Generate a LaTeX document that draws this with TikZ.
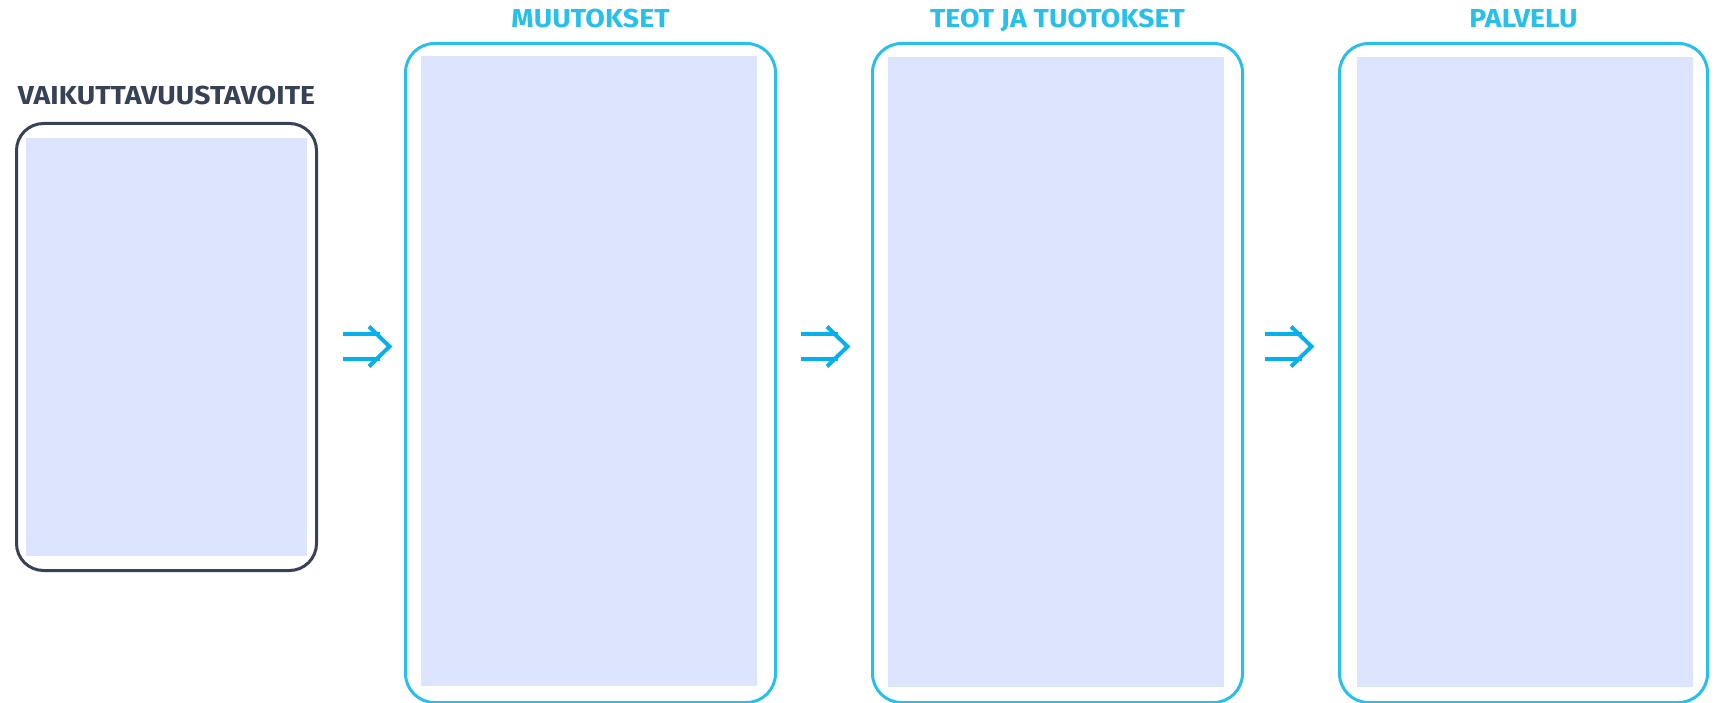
\documentclass[tikz,border=0pt]{standalone}
\usepackage{fontspec}
\usetikzlibrary{calc}
\setmainfont{Fira Sans}
\newfontfamily\titlefont{Fira Sans}[FakeStretch=1.09, LetterSpace=0.5]
\definecolor{darkc}{HTML}{374256}
\definecolor{cyanc}{HTML}{27C0EA}
\definecolor{arrowc}{HTML}{05B0EE}
\definecolor{fillc}{HTML}{DDE4FD}
\tikzset{
  darkbox/.style={draw=darkc, line width=3pt, rounded corners=27pt, inner sep=0pt, outer sep=0pt},
  cyanbox/.style={draw=cyanc, line width=3pt, rounded corners=29pt, inner sep=0pt, outer sep=0pt},
  panel/.style={fill=fillc, draw=none, inner sep=0pt, outer sep=0pt},
  darktitle/.style={text=darkc, font=\titlefont\fontsize{26}{30}\selectfont\bfseries, inner sep=0pt, anchor=base},
  cyantitle/.style={text=cyanc, font=\titlefont\fontsize{26}{30}\selectfont\bfseries, inner sep=0pt, anchor=base},
  flowarrow/.style={draw=arrowc, line width=4pt},
}
\begin{document}
\begin{tikzpicture}[x=1pt, y=-1pt]
\useasboundingbox (0,0) rectangle (1719,703);
% boxes
\node[darkbox, minimum width=300pt, minimum height=447pt] (b1) at (166.5,347) {};
\node[cyanbox, minimum width=370pt, minimum height=659pt] (b2) at (590.5,373) {};
\node[cyanbox, minimum width=370pt, minimum height=659pt] (b3) at (1057.5,373) {};
\node[cyanbox, minimum width=368pt, minimum height=659pt] (b4) at (1523.5,373) {};
% panels
\node[panel, minimum width=281pt, minimum height=418pt] (f1) at (166.5,347) {};
\node[panel, minimum width=336pt, minimum height=630pt] (f2) at (589,371) {};
\node[panel, minimum width=336pt, minimum height=630pt] (f3) at (1056,372) {};
\node[panel, minimum width=336pt, minimum height=630pt] (f4) at (1525,372) {};
% titles
\node[darktitle] (t1) at (166.5,105) {VAIKUTTAVUUSTAVOITE};
\node[cyantitle] (t2) at (590.5,28) {MUUTOKSET};
\node[cyantitle] (t3) at (1057.5,28) {TEOT JA TUOTOKSET};
\node[cyantitle] (t4) at (1523.5,28) {PALVELU};
% arrows
\foreach \i/\x in {1/343, 2/801, 3/1265}{
  \coordinate (a\i s) at (\x,346.5);
  \draw[flowarrow] ($(a\i s)+(0,-12.5)$) -- ++(37,0);
  \draw[flowarrow] ($(a\i s)+(0,12.5)$) -- ++(37,0);
  \draw[flowarrow, line join=miter] ($(a\i s)+(26,-20)$) -- ($(a\i s)+(46.5,0)$) -- ($(a\i s)+(26,20)$);
}
\end{tikzpicture}
\end{document}
